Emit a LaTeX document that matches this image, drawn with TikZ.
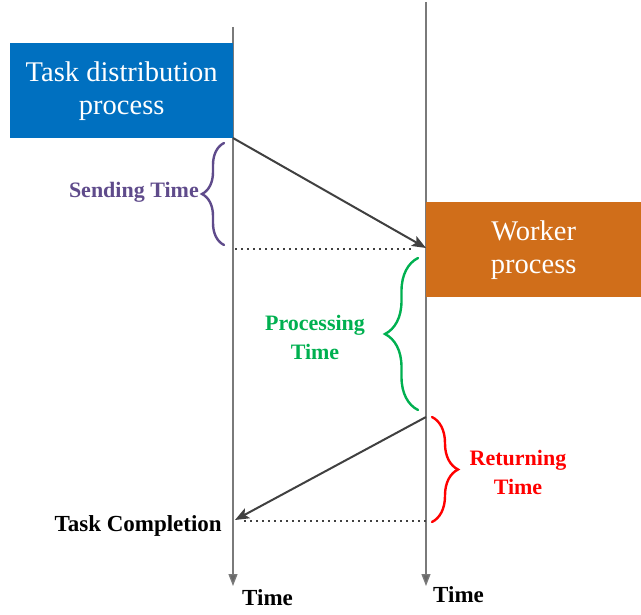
\documentclass[tikz,border=0pt]{standalone}
\usepackage{fontspec}
\setmainfont{Liberation Serif}
\usetikzlibrary{arrows.meta,decorations.pathreplacing}

\definecolor{boxblue}{HTML}{0070C0}
\definecolor{boxorange}{HTML}{D06E1A}
\definecolor{sendpurple}{HTML}{5F4B8B}
\definecolor{procgreen}{HTML}{00B050}
\definecolor{retred}{HTML}{FF0000}
\definecolor{axisgray}{HTML}{7A7A7A}
\definecolor{msggray}{HTML}{404040}

\tikzset{
  procbox/.style={draw=none, inner sep=0pt, text=white, align=center,
    font=\fontsize{28.5}{33}\selectfont},
  timeline/.style={draw=axisgray, line width=1.3pt,
    -{Triangle[length=12pt,width=9pt,fill=axisgray!85!black]}},
  message/.style={draw=msggray, line width=2pt,
    -{Stealth[length=14pt,width=11pt,inset=3pt]}},
  sync/.style={draw=msggray, line width=2pt,
    dash pattern=on 2pt off 4pt},
  span/.style={decorate, line width=2.4pt, line cap=round,
    decoration={brace, amplitude=#1}},
  spanlabel/.style={align=center, inner sep=0pt,
    font=\bfseries\fontsize{22}{29}\selectfont},
  blacklabel/.style={inner sep=0pt, font=\bfseries\fontsize{23}{28}\selectfont}
}

\begin{document}
\begin{tikzpicture}[x=1pt, y=-1pt]
  \useasboundingbox (0,0) rectangle (641,615);

  % time axes of the two processes
  \coordinate (lt) at (233,27);
  \coordinate (lb) at (233,586);
  \coordinate (rt) at (426,2);
  \coordinate (rb) at (426,586);
  \draw[timeline] (lt) -- (lb);
  \draw[timeline] (rt) -- (rb);

  % process boxes
  \node[procbox, fill=boxblue, minimum width=223pt, minimum height=95pt,
        anchor=north west] (dist) at (10,43)
        {Task distribution\\process};
  \node[procbox, fill=boxorange, minimum width=215pt, minimum height=95pt,
        anchor=north west] (work) at (426,202)
        {Worker\\process};

  % event points on the axes
  \coordinate (sendstart) at (233,138);
  \coordinate (recv)      at (426,248);
  \coordinate (recvleft)  at (235,249);
  \coordinate (recvdot)   at (414,249);
  \coordinate (retstart)  at (426,417);
  \coordinate (done)      at (235,520);
  \coordinate (doneright) at (426,521);
  \coordinate (donedot)   at (244,521);

  % messages between the processes
  \draw[message] (sendstart) -- (recv);
  \draw[message] (retstart) -- (done);

  % dotted synchronisation lines
  \draw[sync] (recvleft) -- (recvdot);
  \draw[sync] (donedot) -- (doneright);

  % braces marking the durations
  \coordinate (sb1) at (224,245);
  \coordinate (sb2) at (224,143);
  \draw[span=22pt, draw=sendpurple] (sb1) -- (sb2);
  \coordinate (pb1) at (418,410);
  \coordinate (pb2) at (418,258);
  \draw[span=33pt, draw=procgreen] (pb1) -- (pb2);
  \coordinate (rb1) at (432,417);
  \coordinate (rb2) at (432,522);
  \draw[span=26pt, draw=retred] (rb1) -- (rb2);

  % labels
  \node[spanlabel, text=sendpurple, anchor=east] (sendlbl) at (199,192)
        {Sending Time};
  \node[spanlabel, text=procgreen] (proclbl) at (315,337)
        {Processing\\Time};
  \node[spanlabel, text=retred] (retlbl) at (518,472)
        {Returning\\Time};
  \node[blacklabel, anchor=east] (donelbl) at (222,526) {Task Completion};
  \node[blacklabel, anchor=west] (ltime) at (242,598) {Time};
  \node[blacklabel, anchor=west] (rtime) at (433,595) {Time};
\end{tikzpicture}
\end{document}
